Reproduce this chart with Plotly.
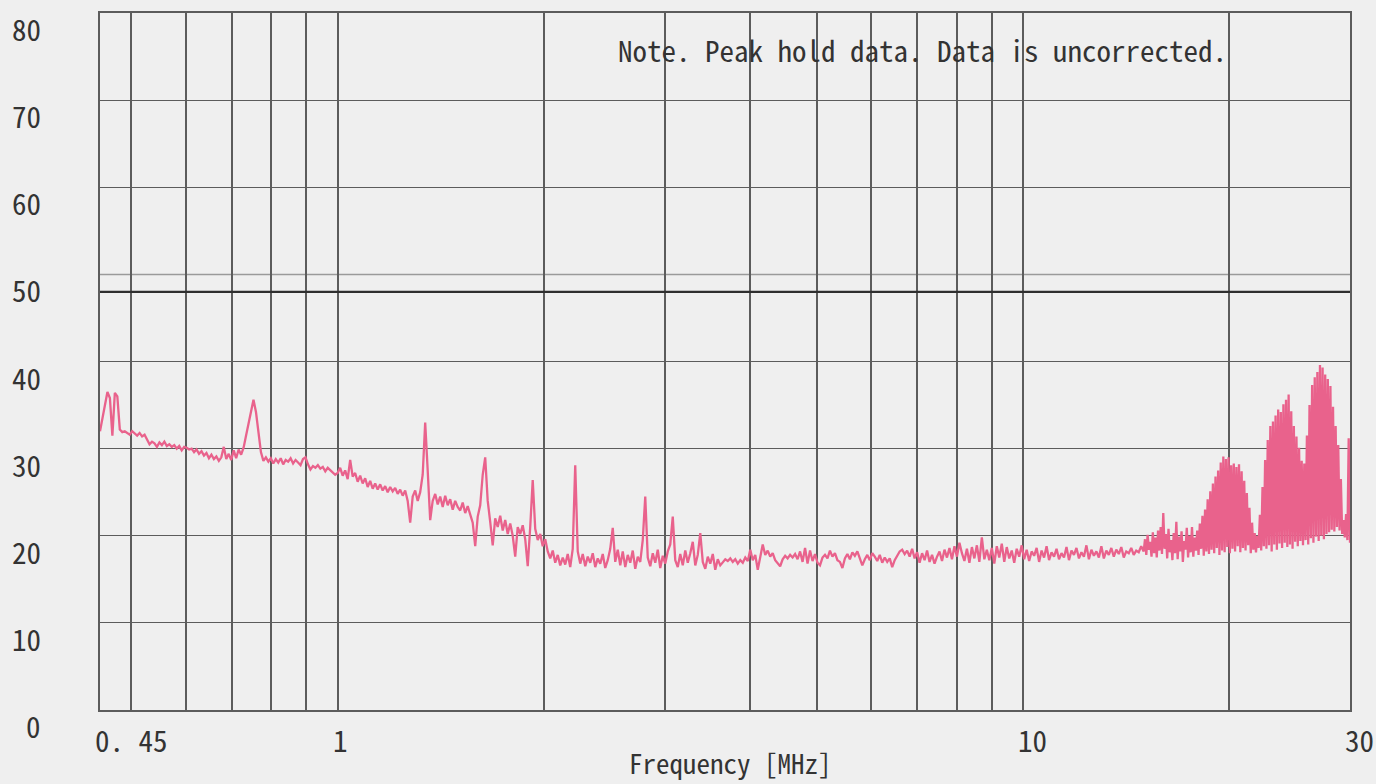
import math
import numpy as np
import plotly.graph_objects as go

# ---- Conducted emission sweep, peak hold (dBuV), split into sweep segments ----
band_a = (0.45, 1.0)
level_a = [
    32.0, 33.5, 35.0, 36.5, 35.8, 31.5, 36.4, 36.0, 32.2, 31.9, 32.0, 31.8,
    31.6, 32.0, 31.7, 31.5, 31.8, 31.4, 31.6, 31.0, 30.5, 30.8, 30.6, 30.2,
    30.7, 30.4, 30.8, 30.3, 30.5, 30.2, 30.4, 30.0, 30.3, 29.8, 30.2, 30.1,
    29.9, 30.0, 29.6, 29.9, 29.4, 29.7, 29.2, 29.5, 28.9, 29.3, 28.8, 29.1,
    28.6, 29.0, 30.2, 28.8, 29.4, 28.7, 29.8, 28.9, 29.9, 29.3, 30.1, 31.5,
    33.0, 34.5, 35.6, 34.2, 32.0, 29.6, 28.6, 29.0, 28.5, 28.9, 28.3, 28.8,
    28.4, 28.9, 28.2, 28.7, 28.5, 28.9, 28.3, 28.7, 28.4, 28.1, 28.8, 29.0,
    28.2, 27.6, 28.0, 27.8, 28.1, 27.7, 27.9, 27.4, 27.8, 27.5, 27.3, 27.0,
]

band_b = (1.0, 4.0)
level_b = [
    27.2, 27.8, 26.9, 27.5, 26.5, 28.7, 26.8, 27.2, 26.2, 26.9, 26.0, 26.6,
    25.6, 26.3, 25.4, 26.0, 25.3, 25.9, 25.2, 25.7, 25.0, 25.6, 25.1, 25.5,
    24.8, 25.3, 24.6, 25.2, 24.0, 21.5, 24.5, 25.2, 24.0, 25.0, 27.0, 33.0,
    27.5, 21.8, 24.0, 24.8, 23.6, 24.5, 23.3, 24.6, 23.5, 24.2, 23.0, 24.0,
    23.3, 22.9, 23.8, 22.6, 23.4, 22.4, 21.5, 18.8, 22.2, 23.5, 27.0, 29.0,
    24.0, 21.6, 18.9, 22.0, 21.0, 22.3, 20.6, 21.8, 20.2, 21.4, 20.0, 17.6,
    21.0, 20.2, 21.2, 19.6, 16.5, 21.0, 26.4, 20.8, 19.5, 20.2, 18.8, 19.6,
    18.2, 17.4, 18.3, 16.9, 17.8, 16.6, 17.5, 16.7, 17.9, 16.4, 18.5, 28.1,
    18.2, 16.8, 17.9, 16.5, 17.6, 16.9, 18.0, 16.4, 17.4, 16.8, 17.9, 16.3,
    17.2, 18.5, 20.9, 17.0, 18.4, 16.6, 18.2, 16.4, 17.8, 16.9, 18.3, 16.2,
    17.6, 17.0, 19.5, 24.5, 17.5, 16.5, 18.0, 16.9, 18.4, 16.3, 17.7, 16.8,
    18.2, 19.0, 22.2, 17.2, 16.4, 17.9, 16.6, 18.3, 16.9, 18.0, 19.3, 16.6,
    17.8, 20.3, 17.0, 16.2, 17.6, 16.8, 17.9, 16.1, 17.3, 16.6, 17.0, 17.3,
    17.1, 17.4, 17.0, 17.3, 16.8, 17.2, 16.9, 17.5, 17.1,
]

band_c = (4.0, 15.0)
level_c = [
    18.4, 17.2, 17.8, 16.1, 17.6, 19.0, 17.8, 18.3, 17.6, 18.0, 17.2, 16.8,
    16.5, 17.3, 17.7, 17.4, 17.8, 17.5, 17.9, 17.3, 18.2, 17.0, 18.6, 16.8,
    18.3, 17.1, 17.9, 16.9, 16.6, 17.5, 17.8, 17.4, 18.3, 17.6, 18.0, 17.2,
    17.0, 16.3, 17.4, 17.9, 17.3, 18.1, 17.7, 18.2, 17.5, 16.6, 17.3, 17.8,
    17.2, 18.0, 17.6, 17.1, 17.8, 16.9, 17.5, 17.0, 17.4, 16.4, 17.2, 17.8,
    18.2, 18.4, 17.9, 18.3, 17.6, 18.5, 17.4, 18.1, 16.9, 18.0, 17.2, 18.3,
    17.0, 17.8, 16.8, 17.6, 18.2, 17.1, 18.4, 17.5, 18.6, 17.3, 18.8, 17.6,
    19.2, 18.0, 17.1, 18.5, 16.9, 18.7, 17.4, 18.9, 17.0, 19.8, 17.3, 18.4,
    17.2, 18.6, 16.8, 18.8, 17.5, 19.1, 17.0, 18.7, 17.4, 18.3, 16.9, 18.5,
    17.6, 18.9, 17.3, 18.4, 17.1, 18.2, 17.7, 18.6, 17.0, 18.3, 17.5, 18.8,
    17.2, 18.1, 17.6, 18.5, 17.3, 18.0, 17.5, 18.7, 17.2, 18.3, 17.8, 18.6,
    17.4, 18.1, 17.6, 18.9, 17.3, 18.4, 17.7, 18.2, 17.5, 18.8, 17.4, 18.3,
    17.8, 18.6, 17.6, 18.4, 17.9, 18.7, 17.5, 18.2, 18.0, 18.6, 17.8, 18.3,
    18.1, 18.8,
]

band_d = (15.0, 30.0)
level_d = [
    18.2, 19.6, 17.8, 20.1, 18.4, 19.3, 17.6, 20.4, 18.0, 19.8, 17.5, 20.6,
    18.3, 21.0, 17.9, 22.6, 18.5, 20.2, 17.4, 20.8, 18.1, 19.5, 17.2, 20.3,
    18.0, 21.6, 17.3, 19.9, 18.2, 20.5, 17.0, 19.4, 18.4, 20.9, 17.5, 20.0,
    18.1, 21.0, 17.6, 19.8, 18.3, 20.6, 17.8, 21.4, 18.5, 22.3, 17.7, 23.0,
    18.2, 24.2, 17.9, 25.1, 18.4, 26.0, 18.0, 26.8, 18.6, 27.5, 17.8, 28.4,
    18.3, 29.1, 18.1, 28.8, 18.7, 29.0, 18.0, 28.1, 18.5, 28.3, 18.2, 27.9,
    18.8, 28.2, 18.1, 27.4, 18.6, 26.3, 18.3, 24.9, 18.9, 23.2, 18.0, 21.5,
    18.4, 20.3, 18.1, 20.0, 18.6, 22.4, 18.3, 25.6, 18.8, 28.7, 18.5, 31.0,
    18.9, 32.6, 18.2, 33.1, 19.0, 33.8, 18.4, 34.5, 19.1, 34.2, 18.6, 35.1,
    19.2, 35.6, 18.7, 36.2, 19.0, 34.3, 18.5, 32.6, 19.3, 31.4, 18.8, 30.1,
    19.4, 28.6, 18.9, 28.3, 19.5, 31.5, 19.0, 35.0, 19.7, 37.3, 19.2, 38.2,
    19.9, 38.8, 19.4, 39.6, 20.0, 39.3, 19.6, 38.5, 20.2, 38.0, 20.4, 37.2,
    20.7, 34.8, 20.5, 32.6, 21.0, 30.4, 20.6, 26.5, 20.2, 21.8, 19.8, 22.5,
    19.5, 31.2, 19.2,
]

limit_level = 48.0

# Axis layout values
freq_grid = [0.5, 0.6, 0.7, 0.8, 0.9, 1, 2, 3, 4, 5, 6, 7, 8, 9, 10, 20]
freq_labels = [(0.45, "0. 45"), (1, "1"), (10, "10"), (30, "30")]
level_ticks = [0, 10, 20, 30, 40, 50, 60, 70, 80]
note_text = "Note. Peak hold data. Data is uncorrected."
x_title = "Frequency [MHz]"

# Log-spaced sweep points for each segment
segments = [(band_a, level_a), (band_b, level_b), (band_c, level_c), (band_d, level_d)]
freqs, levels = [], []
for k, ((f0, f1), vals) in enumerate(segments):
    last = k == len(segments) - 1
    freqs.extend(np.geomspace(f0, f1, len(vals), endpoint=last).tolist())
    levels.extend(vals)

TEXT_FONT = "Noto Sans Mono CJK JP, DejaVu Sans Mono, monospace"
GRID = "#5c5c5c"
BG = "#efefef"

fig = go.Figure()

fig.add_trace(go.Scatter(
    x=freqs, y=levels, mode="lines",
    line=dict(color="#e9628c", width=2.3),
    hoverinfo="skip", showlegend=False,
))

fig.add_trace(go.Scatter(
    x=[band_a[0], band_d[1]], y=[limit_level, limit_level], mode="lines",
    line=dict(color="#2e2e2e", width=2.2),
    hoverinfo="skip", showlegend=False,
))

# lighter 50 dB reference line
fig.add_shape(type="line", xref="paper", x0=0, x1=1, yref="y", y0=50, y1=50,
              line=dict(color="#9a9a9a", width=1.5), layer="below")

fig.update_xaxes(
    type="log",
    range=[math.log10(band_a[0]), math.log10(band_d[1])],
    tickvals=freq_grid, showticklabels=False, ticks="",
    showgrid=True, gridcolor=GRID, gridwidth=1.6,
    showline=True, mirror=True, linecolor=GRID, linewidth=1.6,
    zeroline=False,
)
fig.update_yaxes(
    range=[0, 80],
    tickvals=[t for t in level_ticks if t not in (0, 50, 80)],
    showticklabels=False, ticks="",
    showgrid=True, gridcolor=GRID, gridwidth=1.4,
    showline=True, mirror=True, linecolor=GRID, linewidth=1.6,
    zeroline=False,
)

label_font = dict(family=TEXT_FONT, size=29, color="#333333")

for t in level_ticks:
    fig.add_annotation(
        xref="paper", x=0, xanchor="right", xshift=-57,
        yref="y", y=t, yanchor="middle", yshift=-15,
        text=str(t), showarrow=False, font=label_font,
    )

for f, lab in freq_labels:
    fig.add_annotation(
        xref="x", x=math.log10(f), xanchor="left", xshift=-7,
        yref="paper", y=0, yanchor="middle", yshift=-29,
        text=lab, showarrow=False, font=label_font,
    )

fig.add_annotation(
    xref="paper", x=(616 - 100) / 1250, xanchor="left",
    yref="paper", y=(710 - 49) / 697, yanchor="middle",
    text=note_text, showarrow=False, font=label_font,
)
fig.add_annotation(
    xref="paper", x=(730 - 100) / 1250, xanchor="center",
    yref="paper", y=0, yanchor="middle", yshift=-52,
    text=x_title, showarrow=False, font=dict(family=TEXT_FONT, size=27, color="#333333"),
)

fig.update_layout(
    width=1376, height=784,
    margin=dict(l=100, r=26, t=13, b=74),
    paper_bgcolor=BG, plot_bgcolor=BG,
    showlegend=False,
)

fig.write_html("out.html")
